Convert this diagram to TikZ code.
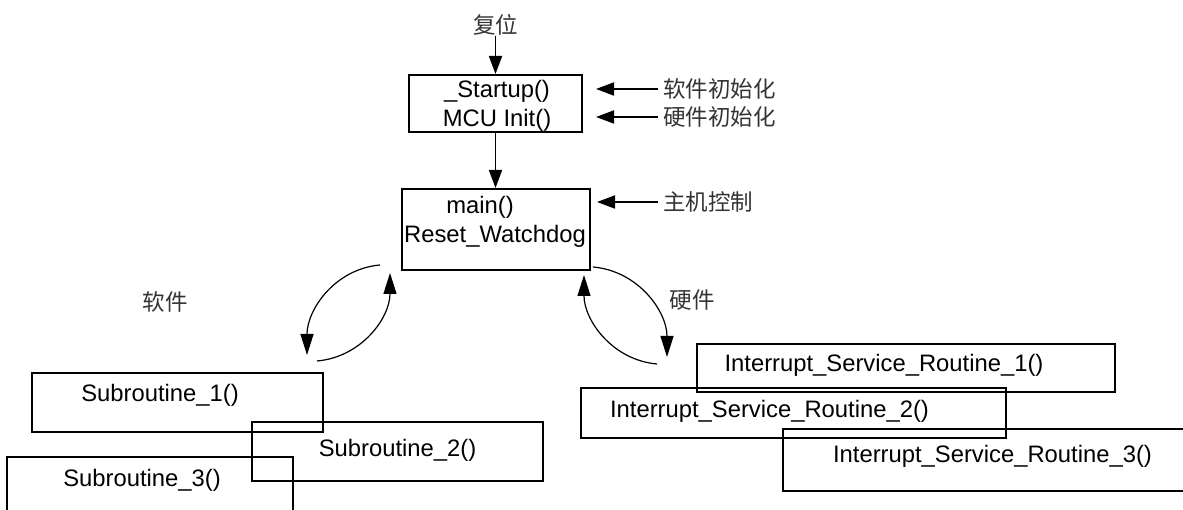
\documentclass[tikz,border=0pt]{standalone}
\usepackage{fontspec}
\setmainfont{Liberation Sans}
\newfontfamily\cjk{Noto Sans CJK SC}
\usetikzlibrary{arrows.meta}
\begin{document}
\begin{tikzpicture}[x=1pt,y=1pt,
  box/.style={draw, line width=2pt, inner sep=0pt},
  code/.style={inner sep=0pt, anchor=base, font=\fontsize{23.8}{28}\selectfont},
  zh/.style={inner sep=0pt, font=\cjk\fontsize{22.5}{26}\selectfont, text=black!80},
  flow/.style={-{Triangle[length=18pt,width=13pt]}, line width=1.8pt},
  loopback/.style={-{Triangle[length=21pt,width=13pt]}, line width=1.2pt},
]
\useasboundingbox (0,0) rectangle (1183,510);
\clip (0,0) rectangle (1183,510);

% start-up and main boxes
\node[box, minimum width=173pt, minimum height=57pt] (startup) at (495.5,406.5) {};
\node[box, minimum width=188pt, minimum height=81pt] (main) at (495.5,280.5) {};
\node[code] (tstart) at (497,412) {\_Startup()};
\node[code] (tmcu) at (497,383) {MCU Init()};
\node[code] (tmain) at (480,296) {main()};
\node[code] (twd) at (495,267) {Reset\_Watchdog};

% subroutine boxes (left)
\node[box, minimum width=291pt, minimum height=59pt] (sub1) at (177.5,107.5) {};
\node[box, minimum width=291pt, minimum height=59pt] (sub2) at (397.5,58.5) {};
\node[box, minimum width=286pt, minimum height=63pt] (sub3) at (150,21.5) {};
\node[code] (tsub1) at (160,108) {Subroutine\_1()};
\node[code] (tsub2) at (397.5,53) {Subroutine\_2()};
\node[code] (tsub3) at (142,23) {Subroutine\_3()};

% interrupt service routine boxes (right)
\node[box, minimum width=418pt, minimum height=48pt] (isr1) at (906,142) {};
\node[box, minimum width=425pt, minimum height=50pt] (isr2) at (793.5,97) {};
\node[box, minimum width=418pt, minimum height=62pt] (isr3) at (992,50) {};
\node[code] (tisr1) at (884,138) {Interrupt\_Service\_Routine\_1()};
\node[code] (tisr2) at (769.5,92) {Interrupt\_Service\_Routine\_2()};
\node[code] (tisr3) at (992.5,47) {Interrupt\_Service\_Routine\_3()};

% labels
\node[zh] (reset) at (495.5,485) {复位};
\node[zh, anchor=west] (swinit) at (663,421) {软件初始化};
\node[zh, anchor=west] (hwinit) at (663,393) {硬件初始化};
\node[zh, anchor=west] (host) at (663,308) {主机控制};
\node[zh] (sw) at (165,208) {软件};
\node[zh] (hw) at (692,210) {硬件};

% straight connectors
\draw[flow] (reset.south) -- (startup.north);
\draw[flow] (startup.south) -- (main.north);
\draw[flow, shorten <=5pt, shorten >=13pt] (swinit.west) -- (swinit.west -| startup.east);
\draw[flow, shorten <=5pt, shorten >=13pt] (hwinit.west) -- (hwinit.west -| startup.east);
\draw[flow, shorten <=5pt, shorten >=6.5pt] (host.west) -- (host.west -| main.east);

% call / return loops
\coordinate (la1) at (380,245);
\coordinate (la2) at (307,155);
\coordinate (lb1) at (317,149);
\coordinate (lb2) at (390,237);
\coordinate (rc1) at (593,243);
\coordinate (rc2) at (667,153);
\coordinate (rd1) at (657,146);
\coordinate (rd2) at (584,235);
\draw[loopback] (la1) to[out=185,in=90] (la2);
\draw[loopback] (lb1) to[out=5,in=-90] (lb2);
\draw[loopback] (rc1) to[out=-5,in=90] (rc2);
\draw[loopback] (rd1) to[out=175,in=-90] (rd2);
\end{tikzpicture}
\end{document}
